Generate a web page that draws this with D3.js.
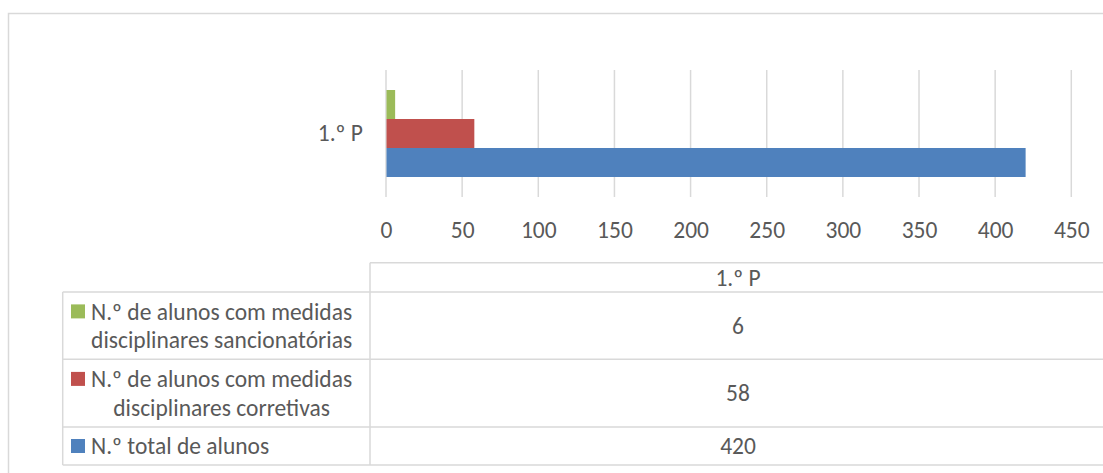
<!DOCTYPE html>
<html><head><meta charset="utf-8">
<script src="https://cdn.jsdelivr.net/npm/d3@7"></script>
<style>
html,body{margin:0;padding:0;background:#fff;}
text{font-family:Carlito,Calibri,Lato,"Open Sans",sans-serif;fill:#595959;}
</style></head>
<body>
<svg id="c" width="1103" height="473"></svg>
<script>
const categories = ["1.º P"];
const seriesNames = [
  "N.º total de alunos",
  "N.º de alunos com medidas disciplinares corretivas",
  "N.º de alunos com medidas disciplinares sancionatórias"
];
const seriesLines = [
  ["N.º total de alunos"],
  ["N.º de alunos com medidas", "disciplinares corretivas"],
  ["N.º de alunos com medidas", "disciplinares sancionatórias"]
];
const totalAlunos = [420];
const corretivas = [58];
const sancionatorias = [6];
const seriesValues = [totalAlunos, corretivas, sancionatorias];
const seriesColors = ["#4F81BD", "#C0504D", "#9BBB59"];
const xTicks = [0, 50, 100, 150, 200, 250, 300, 350, 400, 450];

const svg = d3.select("#c");
const FS = 23.5;
const grid = "#d9d9d9";
const FF = "Carlito,Calibri,Lato,'Open Sans',sans-serif";

// outer chart border
svg.append("rect").attr("x", 8.5).attr("y", 13.5).attr("width", 1110).attr("height", 480)
  .attr("fill", "none").attr("stroke", grid).attr("stroke-width", 1.5);

const x = d3.scaleLinear().domain([0, 450]).range([386, 1071.3]);
const y = d3.scaleBand().domain(categories).range([70, 197]);
const ys = d3.scaleBand().domain([2, 1, 0]).range([0, y.bandwidth()]).paddingOuter(0.69).paddingInner(0);

// gridlines
svg.append("g").selectAll("line").data(xTicks).join("line")
  .attr("x1", d => x(d)).attr("x2", d => x(d))
  .attr("y1", 70).attr("y2", 197)
  .attr("stroke", grid).attr("stroke-width", 1.5);

// x axis labels
const xAxis = d3.axisBottom(x).tickValues(xTicks).tickSize(0).tickPadding(0);
const gx = svg.append("g").attr("transform", "translate(0,238)").call(xAxis);
gx.select(".domain").remove();
gx.selectAll("text").attr("font-size", FS).attr("dy", 0).attr("y", 0)
  .style("font-family", FF).style("fill", "#595959");

// category label
const yAxis = d3.axisLeft(y).tickSize(0).tickPadding(23);
const gy = svg.append("g").attr("transform", "translate(386,0)").call(yAxis);
gy.select(".domain").remove();
gy.selectAll("text").attr("font-size", FS)
  .style("font-family", FF).style("fill", "#595959");

// bars
seriesValues.forEach((vals, si) => {
  svg.append("g").selectAll("rect").data(categories).join("rect")
    .attr("x", x(0) + 0.5)
    .attr("y", (c) => y(c) + ys(si))
    .attr("width", (c, i) => x(vals[i]) - x(0) - 0.5)
    .attr("height", ys.bandwidth())
    .attr("fill", seriesColors[si]);
});

// data table
const tL = 62.7, tC = 370, tR = 1106, tTop = 262.7, hB = 292;
const rowOrder = [2, 1, 0];
const rowBounds = [292, 359.3, 427, 465];
const tg = svg.append("g");
const ln = (x1, y1, x2, y2) => tg.append("line").attr("x1", x1).attr("y1", y1).attr("x2", x2).attr("y2", y2)
  .attr("stroke", grid).attr("stroke-width", 1.5);
ln(tC, tTop, tR, tTop);
ln(tC, tTop, tC, rowBounds[3]);
ln(tL, rowBounds[0], tL, rowBounds[3]);
rowBounds.forEach(b => ln(tL, b, tR, b));
ln(tR, tTop, tR, rowBounds[3]);

const colMid = (tC + tR) / 2;
tg.append("text").attr("x", colMid).attr("y", (tTop + hB) / 2).attr("dy", "0.35em")
  .attr("text-anchor", "middle").attr("font-size", FS).text(categories[0]);

rowOrder.forEach((si, r) => {
  const top = rowBounds[r], bot = rowBounds[r + 1], mid = (top + bot) / 2;
  tg.append("text").attr("x", colMid).attr("y", mid).attr("dy", "0.35em")
    .attr("text-anchor", "middle").attr("font-size", FS).text(seriesValues[si][0]);
  const lines = seriesLines[si];
  const lh = 28.5;
  const keyX = 71, textX = 91;
  const firstY = mid - (lines.length - 1) * lh / 2;
  tg.append("rect").attr("x", keyX).attr("y", firstY - 7).attr("width", 14).attr("height", 14)
    .attr("fill", seriesColors[si]);
  const ts = lines.map((t, k) => tg.append("text").attr("x", textX).attr("y", firstY + k * lh)
    .attr("dy", "0.35em").attr("font-size", FS).text(t));
  if (lines.length > 1) {
    const widths = ts.map(t => t.node().getComputedTextLength());
    const maxW = d3.max(widths);
    ts.forEach((t, k) => t.attr("x", textX + (maxW - widths[k]) / 2));
  }
});
</script>
</body></html>
